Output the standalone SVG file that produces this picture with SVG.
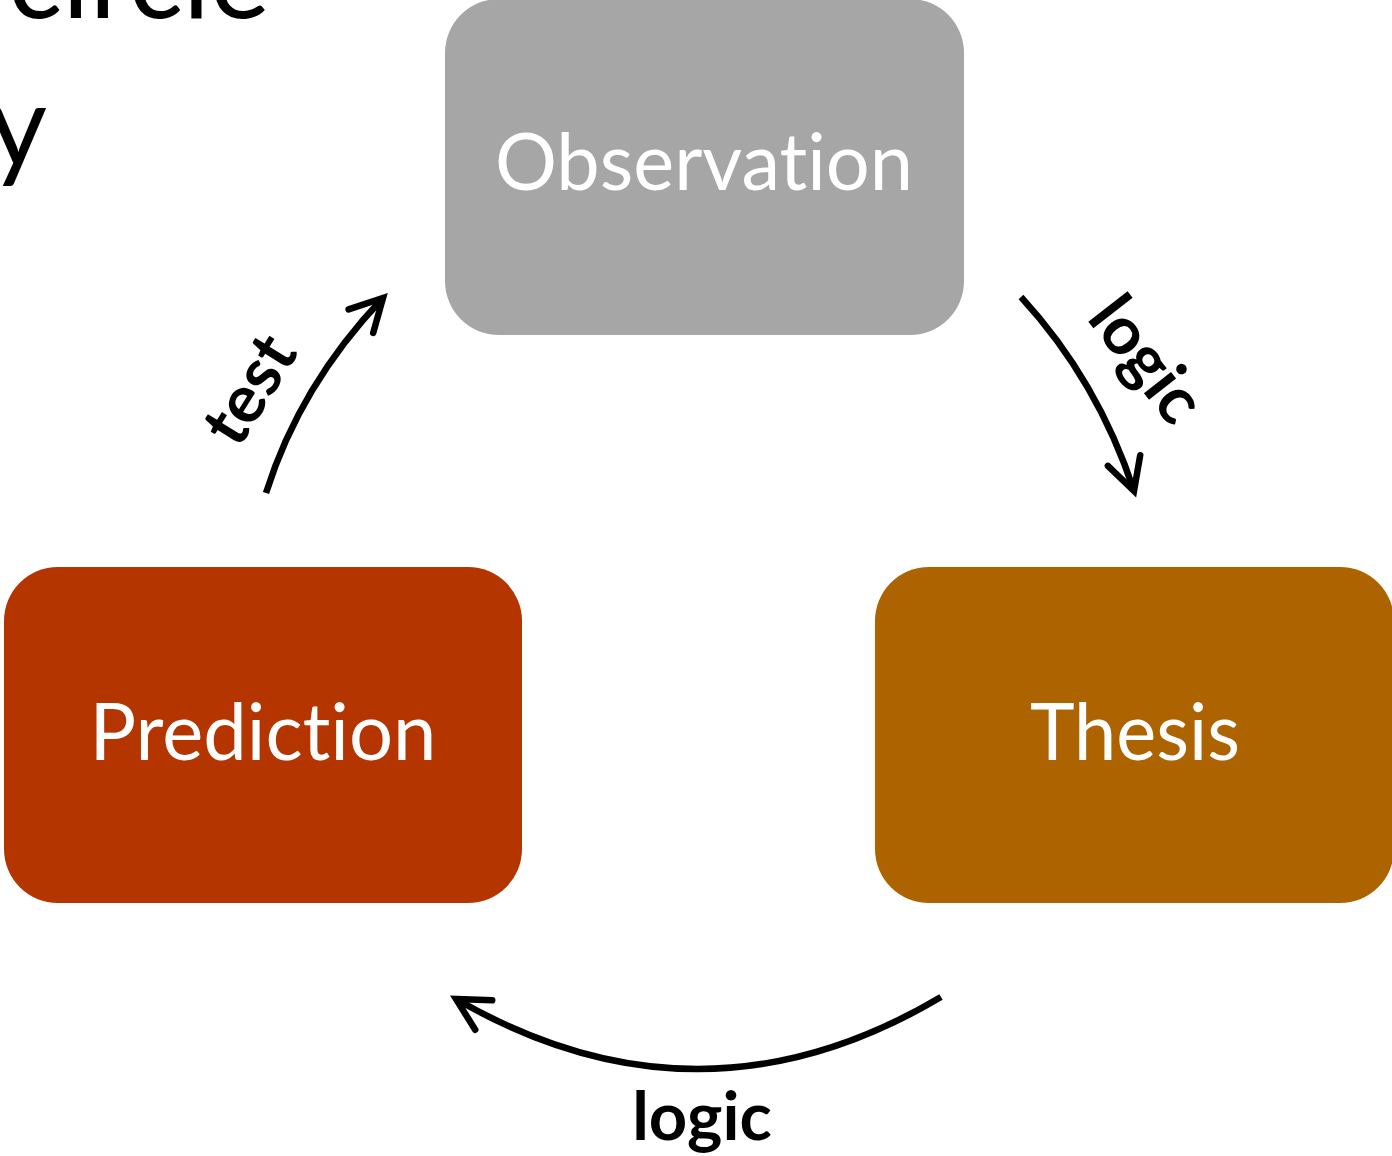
<svg xmlns="http://www.w3.org/2000/svg" width="1392" height="1156" viewBox="0 0 1392 1156">
<style>
text{font-variant-ligatures:none;font-feature-settings:"liga" 0,"clig" 0}
.node-label{font-family:Lato,"Open Sans","Liberation Sans",sans-serif;font-size:80px;fill:#ffffff;text-anchor:middle}
.edge-label{font-family:Lato,"Open Sans","Liberation Sans",sans-serif;font-size:67px;font-weight:bold;fill:#000000;text-anchor:middle}
.title{font-family:Lato,"Open Sans","Liberation Sans",sans-serif;font-size:114px;fill:#000000}
.edge{fill:none;stroke:#000000;stroke-width:6.5;stroke-linecap:butt}
</style>
<defs>
<marker id="arrow" markerUnits="userSpaceOnUse" markerWidth="60" markerHeight="60" refX="0" refY="0" viewBox="-40 -30 50 60" orient="auto" overflow="visible">
<path d="M-32,-17 L0,0 L-32,17" fill="none" stroke="#000000" stroke-width="6.5" stroke-linecap="round" stroke-linejoin="miter"/>
</marker>
</defs>
<rect width="1392" height="1156" fill="#ffffff"/>
<g id="title">
<text class="title" x="8" y="18" textLength="262" lengthAdjust="spacingAndGlyphs">circle</text>
<text class="title" x="47" y="166" text-anchor="end">y</text>
</g>
<g id="node-observation">
<rect x="445" y="-1" width="519" height="336" rx="54" ry="54" fill="#a6a6a6"/>
<text class="node-label" x="704" y="190" textLength="418" lengthAdjust="spacingAndGlyphs">Observation</text>
</g>
<g id="node-prediction">
<rect x="4" y="567" width="518" height="336" rx="54" ry="54" fill="#b53500"/>
<text class="node-label" x="263" y="760" textLength="347" lengthAdjust="spacingAndGlyphs">Prediction</text>
</g>
<g id="node-thesis">
<rect x="875" y="567" width="519" height="336" rx="54" ry="54" fill="#ad6400"/>
<text class="node-label" x="1135" y="760" textLength="210" lengthAdjust="spacingAndGlyphs">Thesis</text>
</g>
<g id="connectors">
<path class="edge" d="M266,493 Q300,385 383,298" marker-end="url(#arrow)"/>
<path class="edge" d="M1021,297 Q1098,381 1134,491" marker-end="url(#arrow)"/>
<path class="edge" d="M941,997 Q700,1140 456,999" marker-end="url(#arrow)"/>
<text class="edge-label" transform="translate(250,390) rotate(-58)" x="0" y="22">test</text>
<text class="edge-label" transform="translate(1146,360) rotate(52)" x="0" y="22">logic</text>
<text class="edge-label" x="702" y="1140">logic</text>
</g>
</svg>
